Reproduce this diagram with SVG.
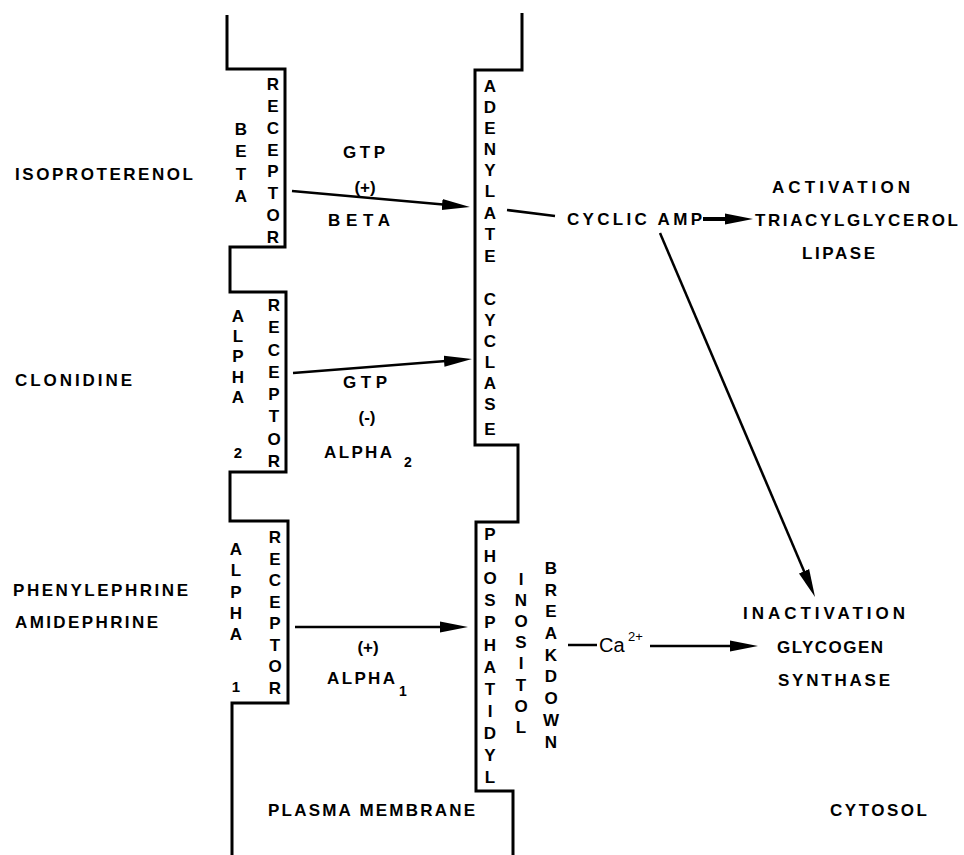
<svg xmlns="http://www.w3.org/2000/svg" width="964" height="855" viewBox="0 0 964 855">
<style>
text{font-family:"Liberation Sans",Arial,sans-serif;font-size:17px;font-weight:bold;fill:#000}
.c{text-anchor:middle}
.n{font-weight:normal}
.sub{font-size:14px}
.mem{fill:none;stroke:#000;stroke-width:3;stroke-linejoin:miter}
.ln{fill:none;stroke:#000;stroke-width:2.5}
</style>
<defs>
<marker id="ah" markerUnits="userSpaceOnUse" markerWidth="30" markerHeight="14" refX="18" refY="6" orient="auto">
<path d="M0,0.5 L28,6 L0,11.5 z" fill="#000"/>
</marker>
</defs>
<rect width="964" height="855" fill="#fff"/>

<g id="membrane">
<path class="mem" d="M227,15 V69 H285 V247 H230 V292 H286 V472 H230 V521 H288 V703 H232 V855"/>
<path class="mem" d="M522,13 V70 H475 V445 H518 V522 H476 V791 H513 V855"/>
</g>

<g id="beta-receptor">
<text class="c" x="273 273 273 273 273 273 273 273" y="90 112 134 156 177 199 221 243">RECEPTOR</text>
<text class="c" x="241 241 241 241" y="135 157 180 202">BETA</text>
</g>
<g id="alpha2-receptor">
<text class="c" x="274 274 274 274 274 274 274 274" y="311 333 356 378 400 422 445 467">RECEPTOR</text>
<text class="c" x="238 238 238 238 238" y="322 342 362 383 403">ALPHA</text>
<text class="c" x="238" y="458" style="font-size:15px">2</text>
</g>
<g id="alpha1-receptor">
<text class="c" x="275 275 275 275 275 275 275 275" y="543 565 586 608 629 651 672 694">RECEPTOR</text>
<text class="c" x="236 236 236 236 236" y="555 576 598 619 640">ALPHA</text>
<text class="c" x="236" y="692" style="font-size:15px">1</text>
</g>
<g id="adenylate-cyclase">
<text class="c" x="490 490 490 490 490 490 490 490 490" y="92 113 134 155 176 197 219 240 262">ADENYLATE</text>
<text class="c" x="490 490 490 490 490 490 490" y="305 326 347 368 389 410 435">CYCLASE</text>
</g>
<g id="pi-breakdown">
<text class="c" x="490 490 490 490 490 490 490 490 490 490 490 490" y="540 562 584 606 628 651 673 695 717 739 761 783">PHOSPHATIDYL</text>
<text class="c" x="521 521 521 521 521 521 521 521" y="585 606 627 648 669 691 712 733">INOSITOL</text>
<text class="c" x="551 551 551 551 551 551 551 551 551" y="574 596 617 639 661 682 704 726 748">BREAKDOWN</text>
</g>

<g id="agonists">
<text x="15" y="180" textLength="178" lengthAdjust="spacing">ISOPROTERENOL</text>
<text x="15" y="386" textLength="117" lengthAdjust="spacing">CLONIDINE</text>
<text x="13" y="596" textLength="175" lengthAdjust="spacing">PHENYLEPHRINE</text>
<text x="15" y="628" textLength="143" lengthAdjust="spacing">AMIDEPHRINE</text>
</g>

<g id="beta-labels">
<text x="343" y="158" textLength="42" lengthAdjust="spacing">GTP</text>
<text class="c" x="365" y="193">(+)</text>
<text x="328" y="226" textLength="62" lengthAdjust="spacing">BETA</text>
</g>
<g id="alpha2-labels">
<text x="343" y="388" textLength="44" lengthAdjust="spacing">GTP</text>
<text class="c" x="367" y="423">(-)</text>
<text x="324" y="458" textLength="68" lengthAdjust="spacing">ALPHA</text>
<text class="sub" x="404" y="467">2</text>
</g>
<g id="alpha1-labels">
<text class="c" x="368" y="653">(+)</text>
<text x="327" y="684" textLength="68" lengthAdjust="spacing">ALPHA</text>
<text class="sub" x="399" y="696">1</text>
</g>

<g id="cyclic-amp"><text x="567" y="225" textLength="135" lengthAdjust="spacing">CYCLIC AMP</text></g>
<g id="lipase">
<text x="772" y="193" textLength="138" lengthAdjust="spacing">ACTIVATION</text>
<text x="755" y="226" textLength="203" lengthAdjust="spacing">TRIACYLGLYCEROL</text>
<text x="802" y="259" textLength="73" lengthAdjust="spacing">LIPASE</text>
</g>
<g id="glycogen-synthase">
<text x="743" y="619" textLength="162" lengthAdjust="spacing">INACTIVATION</text>
<text x="777" y="653" textLength="106" lengthAdjust="spacing">GLYCOGEN</text>
<text x="778" y="686" textLength="112" lengthAdjust="spacing">SYNTHASE</text>
</g>
<g id="calcium">
<text class="n" x="599" y="652" style="font-size:20px">Ca</text>
<text class="n" x="628" y="641" style="font-size:13px">2+</text>
</g>
<g id="compartments">
<text x="268" y="816" textLength="207" lengthAdjust="spacing">PLASMA MEMBRANE</text>
<text x="830" y="816" textLength="97" lengthAdjust="spacing">CYTOSOL</text>
</g>

<g id="connectors">
<line class="ln" x1="292" y1="191" x2="460" y2="206.1" marker-end="url(#ah)"/>
<line class="ln" x1="293" y1="373" x2="462" y2="359.8" marker-end="url(#ah)"/>
<line class="ln" x1="295" y1="627" x2="458" y2="627" marker-end="url(#ah)"/>
<line class="ln" x1="507" y1="210" x2="555" y2="216"/>
<line class="ln" x1="703" y1="219" x2="743" y2="219" style="stroke-width:4" marker-end="url(#ah)"/>
<line class="ln" x1="660" y1="233" x2="811.1" y2="587.8" marker-end="url(#ah)"/>
<line class="ln" x1="568" y1="645" x2="597" y2="645"/>
<line class="ln" x1="650" y1="646" x2="748" y2="646" marker-end="url(#ah)"/>
</g>
</svg>
